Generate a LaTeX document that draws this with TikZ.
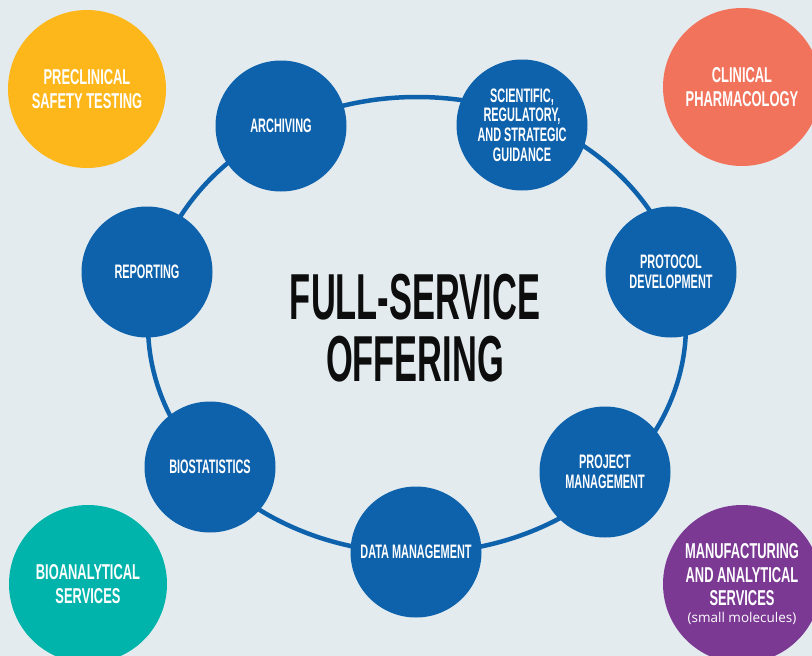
\documentclass[tikz,border=0pt]{standalone}
\usepackage{fontspec}
\newfontfamily\condfont[FakeStretch=0.56]{Liberation Sans}
\newfontfamily\unitfont[FakeStretch=0.6]{Liberation Sans}
\newfontfamily\titlefont[FakeStretch=0.53]{Liberation Sans}
\newfontfamily\smallfont{Open Sans}
\definecolor{bg}{HTML}{E3EBEF}
\definecolor{svcblue}{HTML}{0E62AC}
\definecolor{preyellow}{HTML}{FDB71A}
\definecolor{clincoral}{HTML}{F2735C}
\definecolor{bioteal}{HTML}{00B4AC}
\definecolor{manpurple}{HTML}{7B3994}
\begin{document}
\begin{tikzpicture}[x=1pt, y=-1pt,
  svc/.style={circle, fill=svcblue, minimum size=131pt, inner sep=0pt, align=center, text=white,
    font=\condfont\bfseries\fontsize{19.5}{19.7}\selectfont},
  unit/.style={circle, minimum size=158pt, inner sep=0pt, align=center, text=white,
    font=\unitfont\bfseries\fontsize{21.5}{23.8}\selectfont},
  ring/.style={draw=svcblue, line width=4.5pt}]
\useasboundingbox (0,0) rectangle (812,656);
\clip (0,0) rectangle (812,656);
\fill[bg] (0,0) rectangle (812,656);

% the loop behind the service circles
\coordinate (hub) at (417,325);
\draw[ring] (hub) ellipse [x radius=269, y radius=228];

\node[font=\titlefont\bfseries\fontsize{65}{62}\selectfont, align=center, inner sep=0pt, text=black!95] (title) at (415,328.5) {FULL-SERVICE\\OFFERING};

\node[svc] (arch) at (281,126) {ARCHIVING};
\node[svc] (sci) at (522,125) {SCIENTIFIC,\\REGULATORY,\\AND STRATEGIC\\GUIDANCE};
\node[svc] (proto) at (671,272) {PROTOCOL\\DEVELOPMENT};
\node[svc] (proj) at (605,472) {PROJECT\\MANAGEMENT};
\node[svc] (data) at (416,552) {DATA MANAGEMENT};
\node[svc] (bio) at (210,467) {BIOSTATISTICS};
\node[svc] (rep) at (147,272) {REPORTING};

% outer units in the corners
\node[unit, fill=preyellow] (pre) at (87,89) {PRECLINICAL\\SAFETY TESTING};
\node[unit, fill=clincoral] (clin) at (742,87) {CLINICAL\\PHARMACOLOGY};
\node[unit, fill=bioteal] (bioana) at (88,584) {BIOANALYTICAL\\SERVICES};
\node[unit, fill=manpurple] (manu) at (742,584) {MANUFACTURING\\AND ANALYTICAL\\SERVICES\\[-7pt]{\smallfont\mdseries\fontsize{13.5}{16}\selectfont (small molecules)}};
\end{tikzpicture}
\end{document}
